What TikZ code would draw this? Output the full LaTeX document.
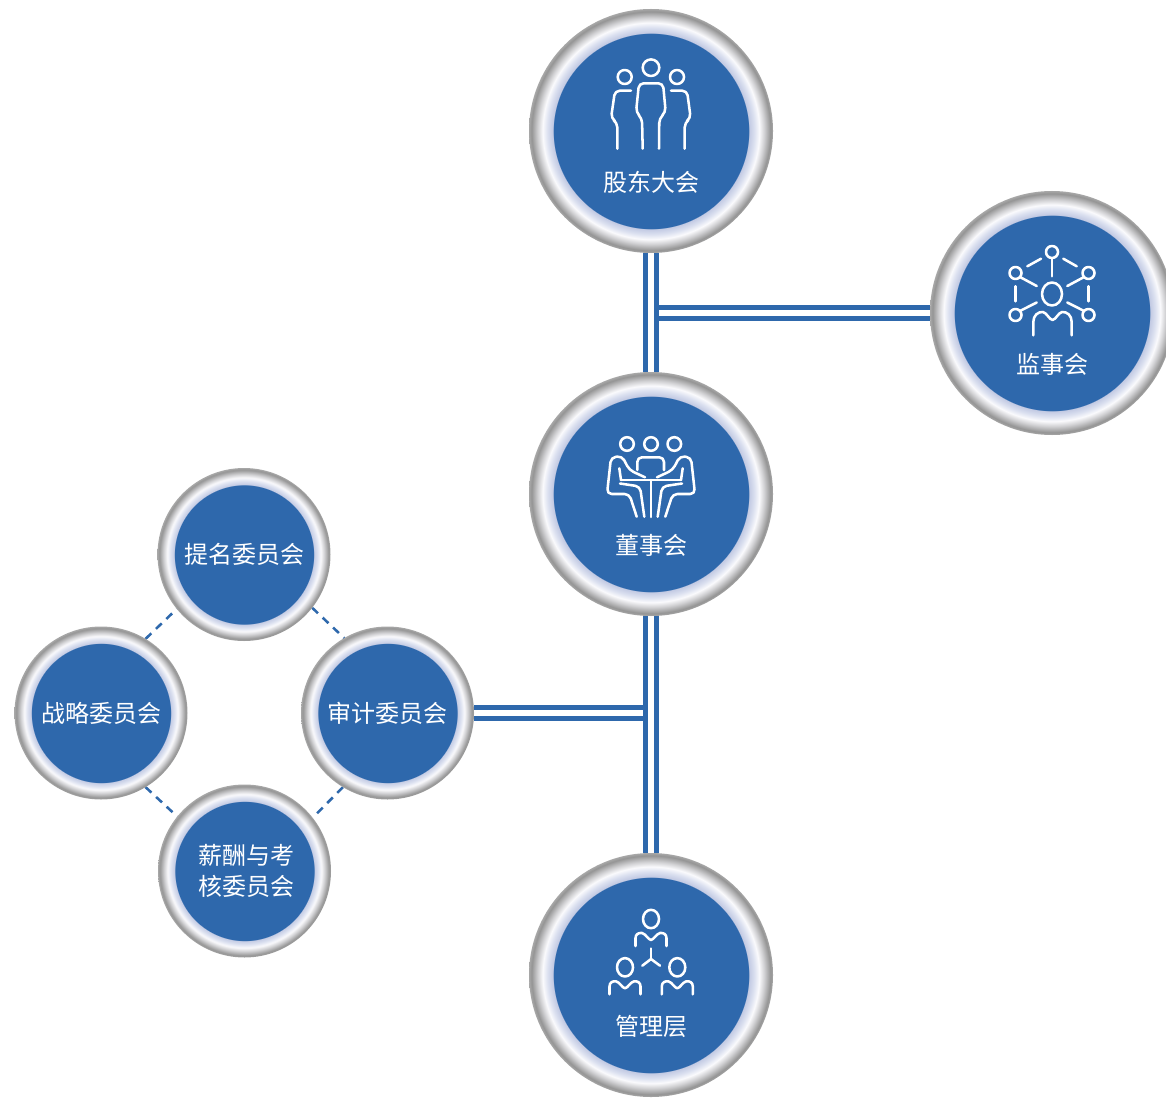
\documentclass[tikz,border=0pt]{standalone}
\usepackage{fontspec}
\setmainfont{Noto Sans CJK SC}
\usetikzlibrary{backgrounds}
\definecolor{corp}{HTML}{2E68AC}
\pgfdeclareradialshading{ringshade}{\pgfpoint{0bp}{0bp}}{%
  color(0bp)=(corp);color(20.1bp)=(corp);
  rgb(20.12bp)=(0.76,0.79,0.89);
  rgb(21.2bp)=(0.86,0.88,0.94);
  rgb(22.2bp)=(0.98,0.98,0.99);
  rgb(23.2bp)=(0.82,0.82,0.83);
  rgb(24.5bp)=(0.58,0.58,0.58);
  rgb(25bp)=(0.66,0.66,0.66);
  rgb(50bp)=(0.66,0.66,0.66)}
\tikzset{
  x=0.75pt,y=-0.75pt,
  ring/.style={circle,inner sep=0pt,outer sep=0pt,shade,shading=ringshade},
  bigring/.style={ring,minimum size=183pt},
  smallring/.style={ring,minimum size=129.75pt,text=white,align=center,
    font=\fontsize{18}{23.25}\selectfont},
  caption/.style={text=white,inner sep=0pt,align=center,font=\fontsize{18}{23.25}\selectfont},
  trunk/.style={draw=corp,line width=3.75pt,double=white,double distance=4.5pt},
  linkdash/.style={draw=corp,line width=1.9pt,dash pattern=on 6pt off 4.8pt},
  glyph/.style={draw=white,line width=1.9pt,line cap=round,line join=round},
  member/.pic={
    \draw[glyph] (0,-27) ellipse [x radius=8,y radius=9.2];
    \draw[glyph] (-15.5,0) -- (-15.5,-8) .. controls (-15.5,-12) and (-12,-13.5) .. (-9,-13)
      .. controls (-5,-12) and (-3,-6.5) .. (0,-6)
      .. controls (3,-6.5) and (5,-12) .. (9,-13)
      .. controls (12,-13.5) and (15.5,-12) .. (15.5,-8) -- (15.5,0);
  }
}
\begin{document}
\begin{tikzpicture}
\clip (0,0) rectangle (1166,1098);
% rings
\node[bigring] (sh) at (651,131) {};
\node[bigring] (su) at (1052,313) {};
\node[bigring] (bd) at (651,494) {};
\node[bigring] (mg) at (651,975) {};
\node[smallring] (nm) at (244,554.5) {提名委员会};
\node[smallring] (st) at (101,713) {战略委员会};
\node[smallring] (au) at (387.5,713) {审计委员会};
\node[ring,minimum size=129.75pt] (pa) at (244.5,871) {};
\node[caption] (paT) at (246,871) {薪酬与考\\核委员会};
\node[caption] (shT) at (651,182) {股东大会};
\node[caption] (suT) at (1052,364) {监事会};
\node[caption] (bdT) at (651,545) {董事会};
\node[caption] (mgT) at (651,1026) {管理层};
\coordinate (j1) at (659,313);
\coordinate (j2) at (643,713);
% connectors
\begin{pgfonlayer}{background}
\fill[white] (0,0) rectangle (1166,1098);
\draw[trunk] (sh) -- (bd);
\draw[trunk] (bd) -- (mg);
\draw[trunk] (j1) -- (su);
\draw[trunk] (au) -- (j2);
\draw[linkdash] (st.59) -- (nm.219);
\draw[linkdash] (nm.-38.5) -- (au.120.5);
\draw[linkdash] (st.-59) -- (pa.141.5);
\draw[linkdash] (au.239.5) -- (pa.38.5);
\end{pgfonlayer}
% icon: shareholders
\draw[glyph] (651,67.7) circle (8.3);
\draw[glyph] (624.7,77) circle (7);
\draw[glyph] (677,77) circle (7);
\begin{scope}[rounded corners=3.5pt]
\draw[glyph] (642.7,148.7) -- (642,118.3) -- (636,112.3) -- (639,83.3) -- (663,83.3) -- (665.7,112.3) -- (659.3,118.3) -- (659,148.7);
\draw[glyph] (631,90.7) -- (615,90.7) -- (611,118.3) -- (617.3,122.7) -- (617.3,148.7);
\draw[glyph] (671,90.7) -- (687,90.7) -- (690.7,118.3) -- (684.7,122.7) -- (684.7,148.7);
\end{scope}
% icon: supervisors
\foreach \p in {(1052,252),(1015.5,273),(1088.5,273),(1015.5,315),(1088.5,315)}
  \draw[glyph] \p circle (6);
\draw[glyph] (1052,294) ellipse [x radius=10,y radius=11.5];
\draw[glyph] (1052,259) -- (1052,276.3);
\draw[glyph] (1027.3,266.3) -- (1041,258.7);
\draw[glyph] (1063.3,258.7) -- (1076.7,266.3);
\draw[glyph] (1020.5,277.3) -- (1036.7,286);
\draw[glyph] (1083.5,277.3) -- (1067.3,286);
\draw[glyph] (1015.7,286.3) -- (1015.7,301.3);
\draw[glyph] (1088.3,286.3) -- (1088.3,301.3);
\draw[glyph] (1020.5,310.7) -- (1036.7,302.5);
\draw[glyph] (1083.5,310.7) -- (1067.3,302.5);
\draw[glyph] (1033.3,335.3) -- (1033.3,322) .. controls (1033.3,315.5) and (1038,311.5) .. (1043,312)
  .. controls (1047,313) and (1049,319.5) .. (1052.5,320)
  .. controls (1056,319.5) and (1058,313) .. (1062,312)
  .. controls (1067,311.5) and (1071.7,315.5) .. (1071.7,322) -- (1071.7,335.3);
% icon: board
\draw[glyph] (627,444) circle (6.8);
\draw[glyph] (651,444) circle (6.8);
\draw[glyph] (674.3,444) circle (6.8);
\draw[glyph,rounded corners=3.5pt] (637.3,470) -- (637.3,457.3) -- (664,457.3) -- (664,470);
\draw[glyph] (621,480) -- (681,480);
\draw[glyph] (651,480) -- (651,517);
\begin{scope}[rounded corners=3.5pt]
\draw[glyph] (636.7,516.7) -- (629.3,494) -- (607,494) -- (611,457.5) -- (622,456) -- (629.3,470) -- (645,477.3);
\draw[glyph] (619.3,468.3) -- (621,480);
\draw[glyph] (620,483.5) -- (640,486.5) -- (644.3,516.7);
\draw[glyph] (665.3,516.7) -- (672.7,494) -- (695,494) -- (691,457.5) -- (680,456) -- (672.7,470) -- (657,477.3);
\draw[glyph] (682.7,468.3) -- (681,480);
\draw[glyph] (682,483.5) -- (662,486.5) -- (657.7,516.7);
\end{scope}
% icon: management
\pic at (651,946) {member};
\pic at (625,994.3) {member};
\pic at (677.3,994.3) {member};
\draw[glyph] (651,948.5) -- (651,959);
\draw[glyph] (642.3,965.7) -- (651,959) -- (660,965.7);
\end{tikzpicture}
\end{document}
